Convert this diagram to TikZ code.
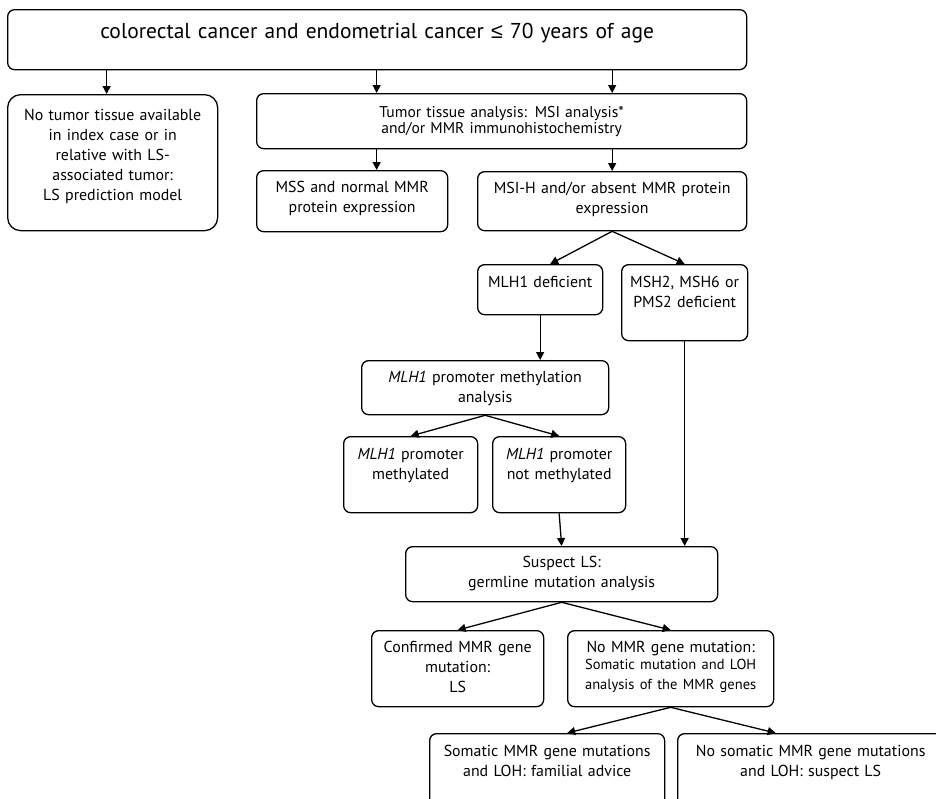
\documentclass[tikz,border=0pt]{standalone}
\usepackage{fontspec}
\setmainfont{PT Sans}
\newfontfamily\symfont{Liberation Sans}
\usetikzlibrary{arrows.meta, positioning}

\begin{document}
\begin{tikzpicture}[
  x=1pt, y=-1pt,
  box/.style={
    draw, rounded corners=7pt, line width=1.3pt, align=center,
    inner xsep=4pt, inner ysep=0pt, anchor=north west,
    font=\fontsize{15.9}{20}\selectfont
  },
  arrow/.style={-{Triangle[length=8pt, width=8pt]}, line width=1.3pt}
]
  \useasboundingbox (0,0) rectangle (936,798);
  \clip (0,0) rectangle (936,798);

  % Rij 1: startvak
  \node[box, text width=731pt, text height=29pt, text depth=31pt,
        font=\fontsize{21.5}{24}\selectfont] (top) at (7,9)
        {colorectal cancer and endometrial cancer {\symfont ≤} 70 years of age};

  % Rij 2
  \node[box, rounded corners=13pt, text width=202pt, text height=26pt, text depth=110pt] (left) at (7,94)
        {No tumor tissue available\\in index case or in\\relative with LS-\\associated tumor:\\LS prediction model};
  \node[box, text width=482pt, text height=24pt, text depth=31pt,
        font=\fontsize{15.6}{16}\selectfont] (tumor) at (256,93)
        {Tumor tissue analysis: MSI analysis*\\and/or MMR immunohistochemistry};

  % Rij 3
  \node[box, text width=183pt, text height=22pt, text depth=39pt] (mss) at (256,170)
        {MSS and normal MMR\\protein expression};
  \node[box, text width=261pt, text height=22pt, text depth=37pt] (msih) at (477,171)
        {MSI-H and/or absent MMR protein\\expression};

  % Rij 4
  \node[box, text width=117pt, text height=23pt, text depth=27pt] (mlh) at (477,264)
        {MLH1 deficient};
  \node[box, text width=118pt, text height=23pt, text depth=53pt] (msh) at (621,264)
        {MSH2, MSH6 or\\PMS2 deficient};

  % Rij 5: methylering
  \node[box, text width=239pt, text height=22pt, text depth=32pt] (meth) at (361,360)
        {\textit{MLH1} promoter methylation\\analysis};
  \node[box, text width=126pt, text height=23pt, text depth=53pt] (methy) at (343,436)
        {\textit{MLH1} promoter\\methylated};
  \node[box, text width=125pt, text height=23pt, text depth=53pt] (notmeth) at (492,436)
        {\textit{MLH1} promoter\\not methylated};

  % Rij 6: kiembaananalyse
  \node[box, text width=304pt, text height=21pt, text depth=34pt] (suspect) at (405,546)
        {Suspect LS:\\germline mutation analysis};
  \node[box, text width=164pt, text height=22pt, text depth=54pt] (confirmed) at (371,630)
        {Confirmed MMR gene\\mutation:\\LS};
  \node[box, text width=198pt, text height=22pt, text depth=54pt] (nommr) at (567,630)
        {No MMR gene mutation:\\[-1pt]{\fontsize{14.5}{18}\selectfont Somatic mutation and LOH\\analysis of the MMR genes}};

  % Rij 7: onderaan afgesneden
  \node[box, text width=227pt, text height=23pt, text depth=100pt] (somatic) at (429,733)
        {Somatic MMR gene mutations\\and LOH: familial advice};
  \node[box, text width=258pt, text height=23pt, text depth=100pt] (nosomatic) at (677,733)
        {No somatic MMR gene mutations\\and LOH: suspect LS};

  % Pijlen
  \draw[arrow] ([xshift=-6pt]left.north |- top.south) -- ([xshift=-6pt]left.north);
  \draw[arrow] ([xshift=-125pt]tumor.north |- top.south) -- ([xshift=-125pt]tumor.north);
  \draw[arrow] (msih.north |- top.south) -- (msih.north |- tumor.north);
  \draw[arrow] ([xshift=-125pt]tumor.south) -- ([xshift=-125pt]tumor.south |- mss.north);
  \draw[arrow] (msih.north |- tumor.south) -- (msih.north);
  \draw[arrow] (msih.south) -- ([xshift=10pt]mlh.north);
  \draw[arrow] (msih.south) -- (msh.north);
  \draw[arrow] (mlh.south) -- (mlh.south |- meth.north);
  \draw[arrow] (meth.south) -- (methy.north);
  \draw[arrow] (meth.south) -- (notmeth.north);
  \draw[arrow] (notmeth.south) -- (suspect.north);
  \draw[arrow] (msh.south) -- (msh.south |- suspect.north);
  \draw[arrow] (suspect.south) -- (confirmed.north);
  \draw[arrow] (suspect.south) -- (nommr.north);
  \draw[arrow] (nommr.south) -- ([xshift=20pt]somatic.north);
  \draw[arrow] (nommr.south) -- ([xshift=-35pt]nosomatic.north);

\end{tikzpicture}
\end{document}
